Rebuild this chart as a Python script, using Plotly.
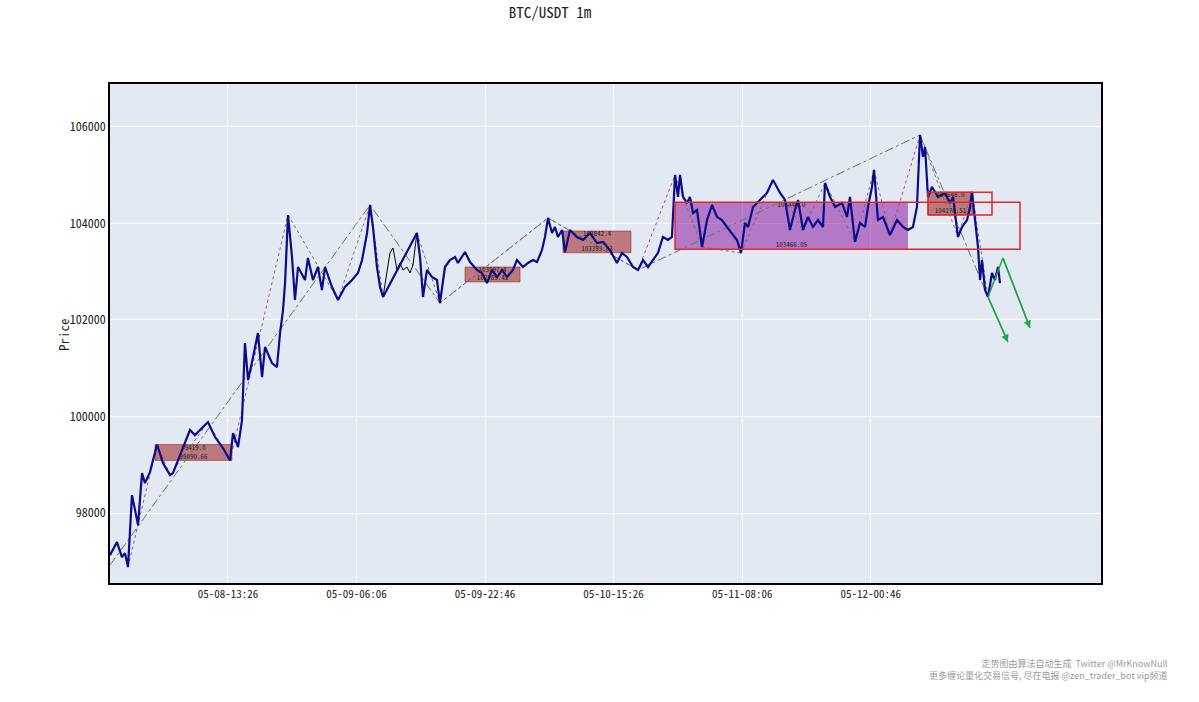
import pandas as pd
import plotly.graph_objects as go

# ---------------- data ----------------
start_time = pd.Timestamp("2025-05-07 22:08")

price_minutes = [0, 54, 93, 117, 140, 171, 195, 218, 249, 272, 311, 366, 412, 467, 490, 568, 622, 661, 762, 817,
                 879, 934, 957, 996, 1027, 1050, 1074, 1113, 1151, 1183, 1206, 1260, 1299, 1323, 1346, 1362, 1385,
                 1416, 1439, 1463, 1517, 1540, 1579, 1618, 1649, 1673, 1727, 1774, 1828, 1883, 1929, 1961, 2000,
                 2023, 2046, 2077, 2101, 2124, 2388, 2412, 2435, 2466, 2505, 2544, 2567, 2606, 2645, 2684, 2707,
                 2762, 2801, 2855, 2894, 2933, 2972, 3011, 3050, 3089, 3135, 3166, 3213, 3252, 3291, 3322, 3361,
                 3384, 3408, 3439, 3462, 3485, 3517, 3540, 3579, 3633, 3680, 3734, 3789, 3836, 3890, 3944, 3983,
                 4022, 4069, 4108, 4147, 4186, 4225, 4263, 4302, 4341, 4372, 4396, 4419, 4435, 4458, 4489, 4512,
                 4536, 4567, 4606, 4645, 4684, 4723, 4761, 4800, 4839, 4878, 4909, 4940, 4964, 5003, 5057, 5111,
                 5158, 5213, 5252, 5290, 5329, 5353, 5392, 5430, 5469, 5508, 5547, 5563, 5602, 5641, 5695, 5734,
                 5757, 5796, 5835, 5874, 5897, 5928, 5944, 5975, 6014, 6068, 6123, 6170, 6208, 6247, 6278, 6302,
                 6325, 6341, 6364, 6395, 6419, 6442, 6496, 6535, 6559, 6597, 6629, 6668, 6691, 6706, 6730, 6753,
                 6769, 6784, 6808, 6831, 6862, 6885, 6909, 6924]
price_close = [97128, 97397, 97086, 97169, 96879, 98371, 98060, 97749, 98827, 98620, 98848, 99419, 99035, 98786,
               98827, 99346, 99719, 99615, 99885, 99574, 99346, 99091, 99657, 99366, 99926, 101522, 100755, 101232,
               101730, 100817, 101439, 101108, 101025, 101730, 102206, 102766, 104176, 103305, 102414, 103098,
               102828, 103284, 102828, 103098, 102621, 103098, 102683, 102414, 102683, 102828, 102973, 103243,
               103803, 104383, 103927, 103098, 102683, 102476, 103803, 103305, 102476, 103036, 102890, 102828,
               102352, 103098, 103243, 103305, 103181, 103409, 103201, 103036, 102973, 102766, 103036, 102890,
               103036, 102890, 103036, 103243, 103098, 103181, 103243, 103201, 103450, 103720, 104114, 103803,
               103927, 103720, 103865, 103409, 103865, 103720, 103658, 103803, 103595, 103616, 103450, 103181,
               103388, 103305, 103098, 103036, 103243, 103098, 103243, 103388, 103720, 103658, 103720, 105005,
               104549, 105005, 104549, 104425, 104549, 104217, 104279, 103512, 104072, 104383, 104134, 104072,
               103927, 103803, 103658, 103388, 104010, 103927, 104342, 104487, 104632, 104901, 104632, 104487,
               103865, 104279, 104487, 103865, 104134, 103927, 104072, 103927, 104839, 104549, 104342, 104425,
               104134, 104549, 103616, 104010, 103927, 104342, 104756, 105109, 104072, 104134, 103761, 104072,
               103927, 103865, 103927, 104342, 105834, 105378, 105585, 104549, 104756, 104653, 104549, 104632,
               104425, 104549, 103720, 103927, 104072, 104342, 104653, 104072, 103512, 102828, 103243, 102621,
               102476, 102973, 102828, 103098, 102766]

gap_minutes = [2124, 2155, 2178, 2202, 2233, 2256, 2280, 2311, 2334, 2357, 2388]
gap_close = [102476, 103036, 103388, 103492, 103036, 103181, 103036, 103098, 102973, 103140, 103803]

bi_minutes = [140, 366, 467, 762, 934, 1385, 1774, 2023, 2124, 2388, 2567, 3408, 4108, 4396, 4606, 4909, 5158,
              5392, 5563, 5796, 5944, 6068, 6302, 6597, 6706, 6831, 6909]
bi_price = [96879, 99419, 98786, 99885, 99091, 104176, 102414, 104383, 102476, 103803, 102352, 104114, 103036,
            105005, 103512, 103388, 104901, 103865, 104839, 103616, 105109, 103761, 105834, 103720, 104653,
            102476, 103098]

seg_minutes = [0, 2023, 2567, 3408, 4108, 6302, 6831]
seg_price = [96920, 104383, 102352, 104114, 103036, 105834, 102476]

zs_start = [350, 2762, 3524, 6364]
zs_end = [949, 3190, 4053, 6714]
zs_high = [99419.0, 103097.4, 103842.4, 104648.0]
zs_low = [99090.66, 102789.42, 103393.03, 104176.51]

big_zs_start = [4396]
big_zs_end = [6208]
big_zs_high = [104440.0]
big_zs_low = [103466.05]

outline_start = [4396, 6364]
outline_end = [7080, 6862]
outline_high = [104440.0, 104648.0]
outline_low = [103466.05, 104176.51]

arrow1_minutes = [6831, 6986]
arrow1_price = [102476, 101543]
arrow2_minutes = [6831, 6947, 7158]
arrow2_price = [102476, 103284, 101833]

tick_minutes = [918, 1918, 2918, 3918, 4918, 5918]
tick_text = ["05-08-13:26", "05-09-06:06", "05-09-22:46", "05-10-15:26", "05-11-08:06", "05-12-00:46"]
y_ticks = [98000, 100000, 102000, 104000, 106000]
x_range_minutes = [0, 7710]
y_range = [96550, 106890]


def t(m):
    return start_time + pd.to_timedelta(m, unit="min")


def ts(ms):
    return [t(m) for m in ms]


MONO = "Noto Sans Mono CJK SC, DejaVu Sans Mono, monospace"
CJK = "Noto Sans CJK SC, sans-serif"

W, H = 1199, 702
L, R, T, B = 110, 98, 84, 119

fig = go.Figure()

# zhongshu boxes
shapes = []
for s, e, h, l in zip(zs_start, zs_end, zs_high, zs_low):
    shapes.append(dict(type="rect", xref="x", yref="y", x0=t(s), x1=t(e), y0=l, y1=h,
                       fillcolor="rgba(160,40,40,0.58)", line=dict(color="rgba(160,40,40,0.75)", width=0.8),
                       layer="between"))
for s, e, h, l in zip(big_zs_start, big_zs_end, big_zs_high, big_zs_low):
    shapes.append(dict(type="rect", xref="x", yref="y", x0=t(s), x1=t(e), y0=l, y1=h,
                       fillcolor="rgba(140,30,160,0.55)", line=dict(width=0),
                       layer="between"))
for s, e, h, l in zip(outline_start, outline_end, outline_high, outline_low):
    shapes.append(dict(type="rect", xref="x", yref="y", x0=t(s), x1=t(e), y0=l, y1=h,
                       fillcolor="rgba(0,0,0,0)", line=dict(color="#e0282c", width=1.5),
                       layer="above"))

# segment lines
fig.add_trace(go.Scatter(x=ts(seg_minutes), y=seg_price, mode="lines",
                         line=dict(color="#5f7a5f", width=1, dash="dashdot"), hoverinfo="skip"))

# bi lines
for i in range(len(bi_minutes) - 1):
    up = bi_price[i + 1] > bi_price[i]
    fig.add_trace(go.Scatter(x=ts(bi_minutes[i:i + 2]), y=bi_price[i:i + 2], mode="lines",
                             line=dict(color="#a0508a" if up else "#707070", width=1, dash="dot"),
                             hoverinfo="skip"))

# black close line in gap
fig.add_trace(go.Scatter(x=ts(gap_minutes), y=gap_close, mode="lines",
                         line=dict(color="black", width=1)))

# price
fig.add_trace(go.Scatter(x=ts(price_minutes), y=price_close, mode="lines",
                         line=dict(color="#0c0c8a", width=2.2)))

# green forecast arrows
for am, ap in [(arrow1_minutes, arrow1_price), (arrow2_minutes, arrow2_price)]:
    fig.add_trace(go.Scatter(x=ts(am), y=ap, mode="lines", line=dict(color="#22a54a", width=1.5)))
    fig.add_annotation(x=t(am[-1]), y=ap[-1], ax=t(am[-2]), ay=ap[-2], xref="x", yref="y",
                       axref="x", ayref="y", showarrow=True, arrowhead=2, arrowsize=1,
                       arrowwidth=1.5, arrowcolor="#22a54a", text="")

# box labels
all_s = zs_start + big_zs_start
all_e = zs_end + big_zs_end
all_h = zs_high + big_zs_high
all_l = zs_low + big_zs_low
mid = [t((s + e) / 2) for s, e in zip(all_s, all_e)]
fig.add_trace(go.Scatter(x=mid, y=all_h, mode="text", text=[str(v) for v in all_h],
                         textposition="bottom center",
                         textfont=dict(family=MONO, size=7, color="#222")))
fig.add_trace(go.Scatter(x=mid, y=all_l, mode="text", text=[str(v) for v in all_l],
                         textposition="top center",
                         textfont=dict(family=MONO, size=7, color="#222")))

fig.update_layout(
    width=W, height=H,
    margin=dict(l=L, r=R, t=T, b=B),
    paper_bgcolor="white", plot_bgcolor="#E2E9F3",
    showlegend=False,
    shapes=shapes,
    title=dict(text="BTC/USDT 1m", x=550 / W, xanchor="center", xref="container",
               y=1 - 13 / H, yanchor="middle", yref="container",
               font=dict(family=MONO, size=15, color="#222")),
    font=dict(family=MONO, size=11, color="#222"),
)
fig.update_xaxes(range=[t(x_range_minutes[0]), t(x_range_minutes[1])],
                 tickvals=ts(tick_minutes), ticktext=tick_text,
                 showgrid=True, gridcolor="white", gridwidth=1,
                 showline=True, linecolor="black", linewidth=1.5, mirror=True,
                 zeroline=False, tickfont=dict(family=MONO, size=11))
fig.update_yaxes(range=y_range, tickvals=y_ticks, ticktext=[str(v) for v in y_ticks],
                 showgrid=True, gridcolor="white", gridwidth=1,
                 showline=True, linecolor="black", linewidth=1.5, mirror=True,
                 zeroline=False, tickfont=dict(family=MONO, size=12))

plot_w = W - L - R
plot_h = H - T - B
fig.add_annotation(text="Price", textangle=-90, xref="paper", yref="paper",
                   x=-(L - 63) / plot_w, y=(H - B - 335) / plot_h, xanchor="center", yanchor="middle",
                   showarrow=False, font=dict(family=MONO, size=13, color="#222"))

fig.add_annotation(text="走势图由算法自动生成  Twitter @MrKnowNull<br>更多缠论量化交易信号, 尽在电报 @zen_trader_bot vip频道",
                   xref="paper", yref="paper", x=(1170 - L) / plot_w, y=-(669 - (H - B)) / plot_h,
                   xanchor="right", yanchor="middle", align="right", showarrow=False,
                   font=dict(family=CJK, size=9, color="#9a9a9a"))

fig.write_html("out.html", config={"displayModeBar": False},
               post_script="document.body.style.margin='0px';document.body.style.padding='0px';")
